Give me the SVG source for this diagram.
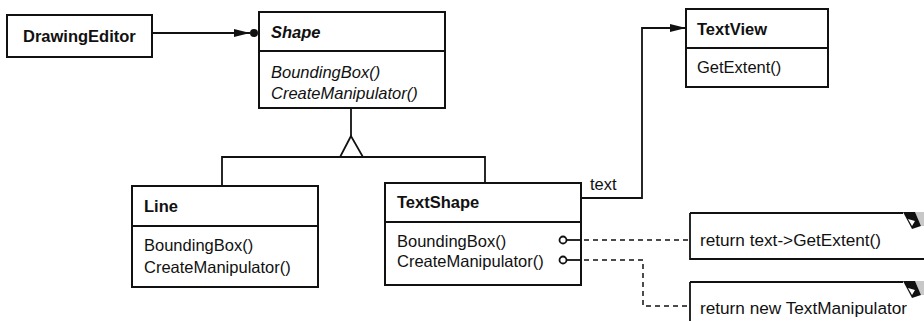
<svg xmlns="http://www.w3.org/2000/svg" width="924" height="321" viewBox="0 0 924 321">
<style>
text{font-family:"Liberation Sans",Arial,sans-serif;font-size:16.5px;fill:#111}
.t{font-weight:bold}
.i{font-style:italic}
.nt{font-size:17.2px}
.box{fill:#fff;stroke:#111;stroke-width:2}
.ln{fill:none;stroke:#111;stroke-width:1.8}
.dash{fill:none;stroke:#111;stroke-width:1.5;stroke-dasharray:5 4}
.pin{fill:#fff;stroke:#111;stroke-width:1.8}
.fold{fill:#111}
.stip{fill:#c8c8c8}
</style>
<defs>
<marker id="arr" viewBox="0 0 16 8" refX="16" refY="4" markerWidth="16" markerHeight="8" markerUnits="userSpaceOnUse" orient="auto">
<path d="M0,0 L16,4 L0,8 Z" fill="#111"/>
</marker>
</defs>
<g id="DrawingEditor">
<rect class="box" x="7" y="15" width="145" height="42"/>
<text class="t" x="23" y="42">DrawingEditor</text>
</g>
<g id="Shape">
<rect class="box" x="259" y="12" width="186" height="96"/>
<line class="ln" x1="259" y1="51" x2="445" y2="51"/>
<text class="t i" x="271" y="38">Shape</text>
<text class="i" x="271" y="78">BoundingBox()</text>
<text class="i" x="271" y="99">CreateManipulator()</text>
</g>
<g id="TextView">
<rect class="box" x="686" y="9" width="142" height="78"/>
<line class="ln" x1="686" y1="48" x2="828" y2="48"/>
<text class="t" x="697" y="35">TextView</text>
<text x="697" y="73">GetExtent()</text>
</g>
<g id="Line">
<rect class="box" x="132" y="186" width="186" height="101"/>
<line class="ln" x1="132" y1="226" x2="318" y2="226"/>
<text class="t" x="144" y="212">Line</text>
<text x="144" y="251">BoundingBox()</text>
<text x="144" y="273">CreateManipulator()</text>
</g>
<g id="TextShape">
<rect class="box" x="385" y="183" width="196" height="102"/>
<line class="ln" x1="385" y1="222" x2="581" y2="222"/>
<text class="t" x="397" y="208">TextShape</text>
<text x="397" y="247">BoundingBox()</text>
<text x="397" y="267">CreateManipulator()</text>
<line class="ln" x1="566.5" y1="240" x2="581" y2="240"/>
<line class="ln" x1="566.5" y1="260" x2="581" y2="260"/>
<circle class="pin" cx="563" cy="240" r="3.5"/>
<circle class="pin" cx="563" cy="260" r="3.5"/>
</g>
<g id="note1">
<path d="M690,213 L903,213 M690,213 L690,259 L926,259" class="ln" stroke-width="2"/>
<polygon class="stip" points="915,212 924,212 924,226 921,226"/>
<polygon class="fold" points="903,212 915,212 921,226 912,229"/>
<polygon fill="#fff" points="908,219 915,221 912,226"/>
<text class="nt" x="700" y="246">return text-&gt;GetExtent()</text>
</g>
<g id="note2">
<path d="M690,282 L903,282 M690,282 L690,323" class="ln" stroke-width="2"/>
<polygon class="stip" points="915,281 924,281 924,295 921,295"/>
<polygon class="fold" points="903,281 915,281 921,295 912,298"/>
<polygon fill="#fff" points="908,288 915,290 912,295"/>
<text class="nt" x="700" y="314">return new TextManipulator</text>
</g>
<g id="connectors">
<line class="ln" x1="152" y1="33" x2="250" y2="33" marker-end="url(#arr)"/>
<circle cx="254" cy="33" r="4" fill="#111"/>
<line class="ln" x1="351" y1="108" x2="351" y2="136"/>
<polygon points="351,136 340,157 363,157" fill="#fff" stroke="#111" stroke-width="1.8"/>
<polyline class="ln" points="222,185 222,157 485,157 485,183"/>
<polyline class="ln" points="581,198 642,198 642,28 686,28" marker-end="url(#arr)"/>
<text x="590" y="190">text</text>
<line class="dash" x1="584" y1="240" x2="690" y2="240"/>
<polyline class="dash" points="584,260 643,260 643,306 690,306"/>
</g>
</svg>
